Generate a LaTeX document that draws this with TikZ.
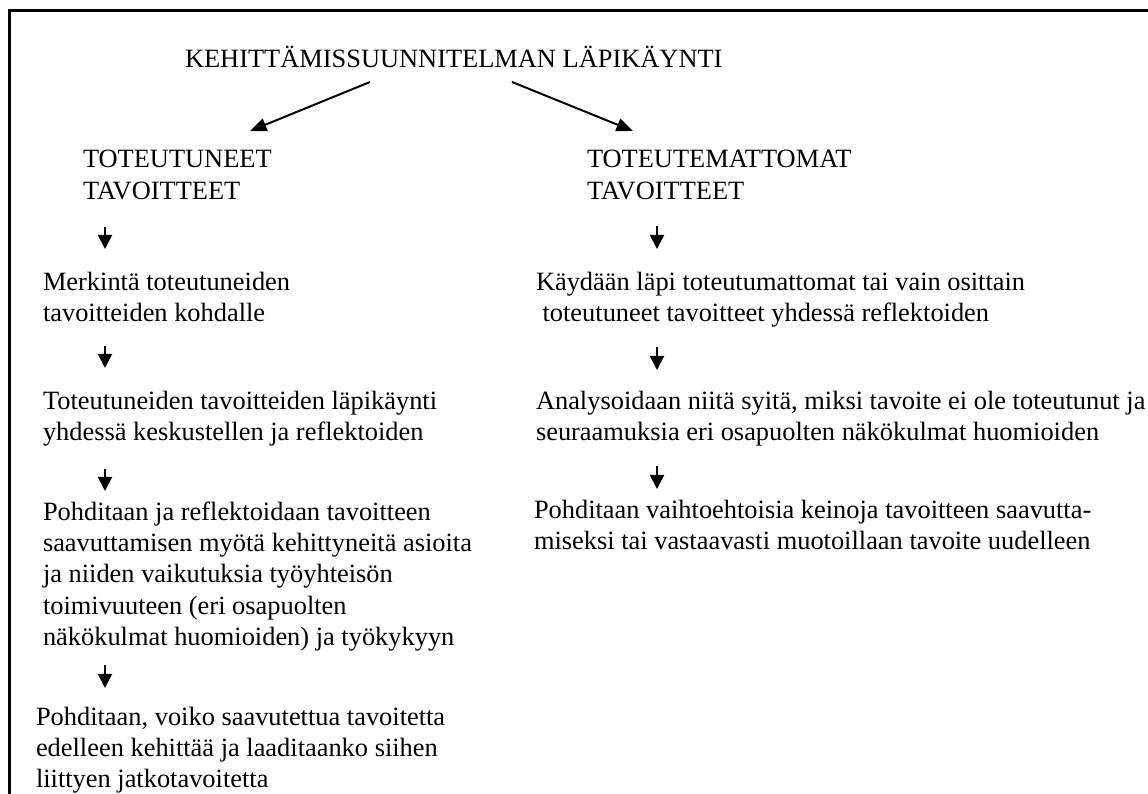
\documentclass[tikz,border=0pt]{standalone}
\usepackage{fontspec}
\setmainfont{Liberation Serif}
\usetikzlibrary{arrows.meta}
% multi-line text block whose reference point is the first baseline
\newcommand\txtlines[1]{\begin{tabular}[t]{@{}l@{}}#1\end{tabular}}
\begin{document}
\begin{tikzpicture}[x=0.4545pt,y=-0.4545pt,
  txt/.style={anchor=base west,inner sep=0pt,outer sep=0pt,
    font=\fontsize{12}{14.3}\selectfont},
  flow/.style={line width=0.9pt,-{Triangle[length=7.5pt,width=6pt]}},
  down/.style={line width=0.9pt,-{Triangle[length=6.4pt,width=6.4pt]}},
  frameline/.style={line width=1.2pt}]
\useasboundingbox (0,0) rectangle (1148,794);
\renewcommand\arraystretch{1}

% frame (open towards the right and bottom edges)
\draw[frameline] (9.7,794) -- (9.7,10.5) -- (1148,10.5);

% headings
\node[txt] (title) at (185,68) {KEHITTÄMISSUUNNITELMAN LÄPIKÄYNTI};
\node[txt] (done) at (83,168) {\txtlines{TOTEUTUNEET\\TAVOITTEET}};
\node[txt] (undone) at (587,168) {\txtlines{TOTEUTEMATTOMAT\\TAVOITTEET}};

% left column
\node[txt] (l1) at (43,290) {\txtlines{Merkintä toteutuneiden\\tavoitteiden kohdalle}};
\node[txt] (l2) at (43,409) {\txtlines{Toteutuneiden tavoitteiden läpikäynti\\yhdessä keskustellen ja reflektoiden}};
\node[txt] (l3) at (43,520) {\txtlines{Pohditaan ja reflektoidaan tavoitteen\\saavuttamisen myötä kehittyneitä asioita\\ja niiden vaikutuksia työyhteisön\\toimivuuteen (eri osapuolten\\näkökulmat huomioiden) ja työkykyyn}};
\node[txt] (l4) at (36,725) {\txtlines{Pohditaan, voiko saavutettua tavoitetta\\edelleen kehittää ja laaditaanko siihen\\liittyen jatkotavoitetta}};

% right column
\node[txt] (r1) at (536,290) {\txtlines{Käydään läpi toteutumattomat tai vain osittain\\\ toteutuneet tavoitteet yhdessä reflektoiden}};
\node[txt] (r2) at (536,409) {\txtlines{Analysoidaan niitä syitä, miksi tavoite ei ole toteutunut ja\\seuraamuksia eri osapuolten näkökulmat huomioiden}};
\node[txt] (r3) at (534,518) {\txtlines{Pohditaan vaihtoehtoisia keinoja tavoitteen saavutta-\\miseksi tai vastaavasti muotoillaan tavoite uudelleen}};

% arrow end points
\coordinate (tA) at (370,82);  \coordinate (tAe) at (250,131);
\coordinate (tB) at (512,82);  \coordinate (tBe) at (633,131);
\coordinate (a1) at (105,227); \coordinate (a1e) at (105,249);
\coordinate (a2) at (105,346); \coordinate (a2e) at (105,368);
\coordinate (a3) at (105,469); \coordinate (a3e) at (105,491);
\coordinate (a4) at (105,665); \coordinate (a4e) at (105,688);
\coordinate (b1) at (657,226); \coordinate (b1e) at (657,249);
\coordinate (b2) at (657,347); \coordinate (b2e) at (657,370);
\coordinate (b3) at (657,466); \coordinate (b3e) at (657,489);

% connectors
\draw[flow] (tA) -- (tAe);
\draw[flow] (tB) -- (tBe);
\draw[down] (a1) -- (a1e);
\draw[down] (a2) -- (a2e);
\draw[down] (a3) -- (a3e);
\draw[down] (a4) -- (a4e);
\draw[down] (b1) -- (b1e);
\draw[down] (b2) -- (b2e);
\draw[down] (b3) -- (b3e);
\end{tikzpicture}
\end{document}
